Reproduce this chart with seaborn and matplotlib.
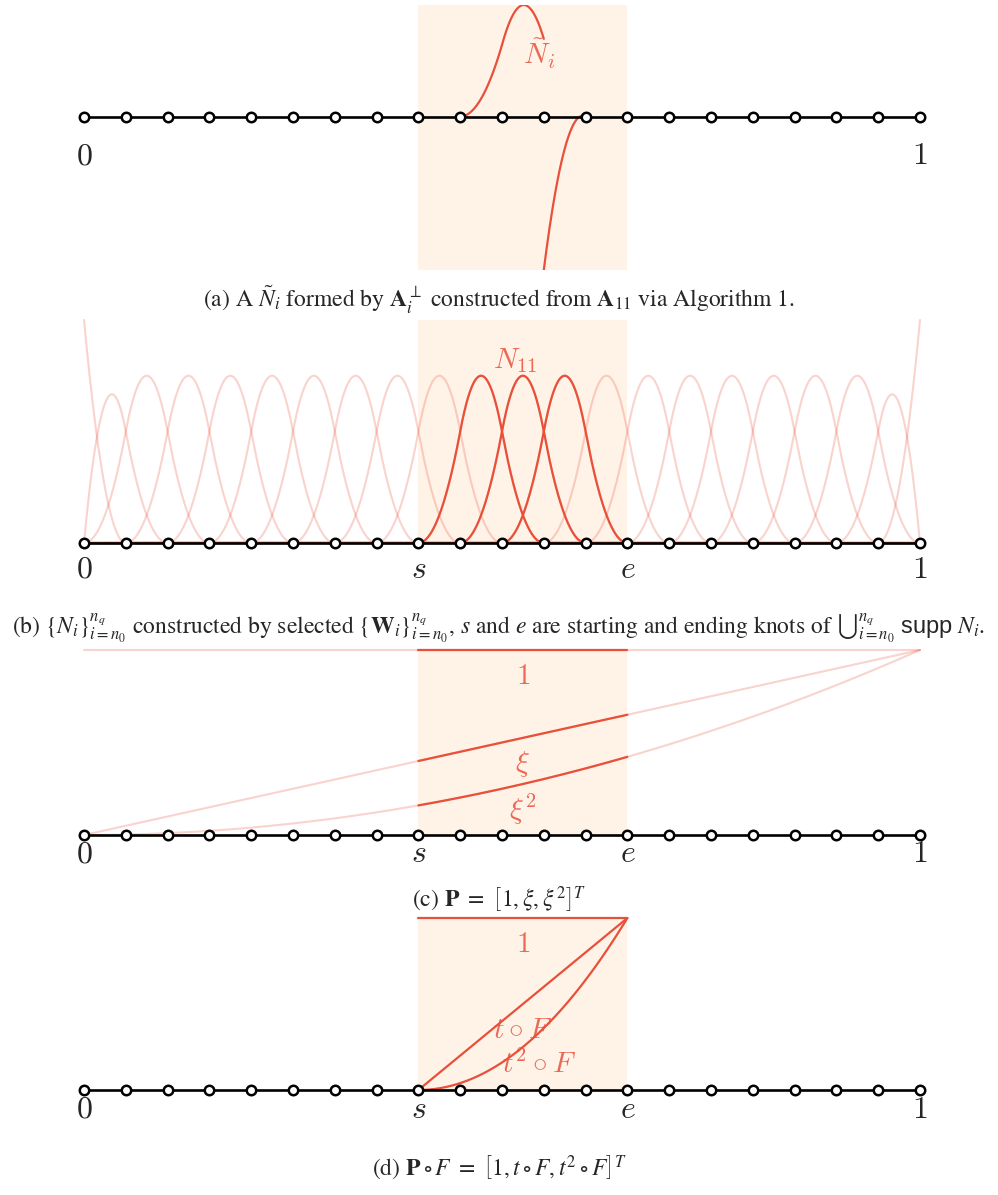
import numpy as np
import matplotlib
matplotlib.use("Agg")
import matplotlib.pyplot as plt
import seaborn as sns

# ---- data -------------------------------------------------------------
# uniform mesh on [0, 1]
knots = [0.0, 0.05, 0.1, 0.15, 0.2, 0.25, 0.3, 0.35, 0.4, 0.45, 0.5,
         0.55, 0.6, 0.65, 0.7, 0.75, 0.8, 0.85, 0.9, 0.95, 1.0]
degree = 2
s_knot, e_knot = 0.4, 0.65
selected = [10, 11, 12]          # basis functions highlighted in (b)

# (a) N~_i, piecewise quadratic, Bernstein coefficients per knot span
ntilde_spans = [(0.45, 0.5), (0.5, 0.55), (0.55, 0.6)]
ntilde_coef = [[0.0, 0.0, 0.70], [0.70, 1.45, 0.76], [-1.50, 0.12, 0.0]]

mono_powers = [0, 1, 2]
mono_labels = [r'$1$', r'$\xi$', r'$\xi^2$']
mapped_labels = [r'$1$', r'$t\circ F$', r'$t^2\circ F$']

captions = [
    r'(a) A $\tilde{N}_i$ formed by $\mathbf{A}_i^{\perp}$ constructed from $\mathbf{A}_{11}$ via Algorithm 1.',
    r'(b) $\{N_i\}_{i=n_0}^{n_q}$ constructed by selected $\{\mathbf{W}_i\}_{i=n_0}^{n_q}$, $s$ and $e$ are '
    r'starting and ending knots of ${\bigcup}_{i=n_0}^{n_q}\ \mathsf{supp}\ N_i$.',
    r'(c) $\mathbf{P}\ =\ \left[1,\xi,\xi^2\right]^T$',
    r'(d) $\mathbf{P}\circ F\ =\ \left[1,t\circ F,t^2\circ F\right]^T$',
]

# ---- style ------------------------------------------------------------
sns.set_theme(style="white")
plt.rcParams['mathtext.rm'] = 'STIXGeneral'
plt.rcParams['mathtext.it'] = 'STIXGeneral:italic'
plt.rcParams['mathtext.bf'] = 'STIXGeneral:bold'
plt.rcParams['mathtext.sf'] = 'Liberation Sans'

RED = "#e8503a"
SHADE = "#fff3e8"
W, H = 998, 1195

fig = plt.figure(figsize=(W / 100, H / 100), dpi=100)


def add_ax(top, bottom):
    return fig.add_axes([84 / W, 1 - bottom / H, 836 / W, (bottom - top) / H])


def basis(i, p, U, x):
    # Cox-de Boor recursion
    if p == 0:
        out = ((U[i] <= x) & (x < U[i + 1])).astype(float)
        if U[i + 1] == U[-1] and U[i] < U[i + 1]:
            out[x == U[-1]] = 1.0
        return out
    a = np.zeros_like(x)
    b = np.zeros_like(x)
    if U[i + p] > U[i]:
        a = (x - U[i]) / (U[i + p] - U[i]) * basis(i, p - 1, U, x)
    if U[i + p + 1] > U[i + 1]:
        b = (U[i + p + 1] - x) / (U[i + p + 1] - U[i + 1]) * basis(i + 1, p - 1, U, x)
    return a + b


def bernstein(c, a, b, x):
    t = (x - a) / (b - a)
    return c[0] * (1 - t) ** 2 + 2 * c[1] * t * (1 - t) + c[2] * t ** 2


def curve(ax, x, y, faint=False, clip=False):
    sns.lineplot(x=x, y=y, ax=ax, color=RED, lw=1.5 if faint else 1.6,
                 alpha=0.25 if faint else 1.0, estimator=None, sort=False,
                 clip_on=clip)


def knot_line(ax, labels, drop):
    ax.plot(knots, np.zeros(len(knots)), color="black", lw=1.9, marker="o",
            ms=6.8, mfc="white", mec="black", mew=1.8, clip_on=False, zorder=5)
    for xv, lbl in labels:
        ax.annotate(lbl, xy=(xv, 0), xytext=(0, -drop), textcoords="offset pixels",
                    ha="center", va="center", fontsize=23, math_fontfamily="cm",
                    annotation_clip=False)


def finish(ax, ylim):
    ax.set_xlim(0, 1)
    ax.set_ylim(*ylim)
    ax.axvspan(s_knot, e_knot, color=SHADE, lw=0, zorder=0)
    ax.axis("off")


def label(ax, x, y, txt):
    ax.text(x, y, txt, color=RED, alpha=0.85, fontsize=21,
            ha="center", va="center", math_fontfamily="cm")


lbl_ends = [(0.0, r"$0$"), (1.0, r"$1$")]
lbl_all = [(0.0, r"$0$"), (s_knot, r"$s$"), (e_knot, r"$e$"), (1.0, r"$1$")]
xs = np.linspace(0, 1, 2001)

# ---- (a) --------------------------------------------------------------
ax = add_ax(5, 270)
ymin, ymax = 0, 0
for (a, b), c in zip(ntilde_spans, ntilde_coef):
    xx = np.linspace(a, b, 300)
    yy = bernstein(c, a, b, xx)
    ymin, ymax = min(ymin, yy.min()), max(ymax, yy.max())
    curve(ax, xx, yy, clip=True)
finish(ax, (ymin, ymax))
label(ax, 0.545, 0.62, r"$\tilde{N}_i$")
knot_line(ax, lbl_ends, 39)

# ---- (b) --------------------------------------------------------------
ax = add_ax(320, 543)
U = [0.0] * degree + knots + [1.0] * degree
n_basis = len(U) - degree - 1
for i in range(n_basis):
    curve(ax, xs, basis(i, degree, U, xs), faint=True)
for i in selected:
    yy = basis(i, degree, U, xs)
    m = (xs >= U[i]) & (xs <= U[i + degree + 1])
    curve(ax, xs[m], yy[m])
finish(ax, (0, 1))
label(ax, 0.516, 0.82, r"$N_{11}$")
knot_line(ax, lbl_all, 26)

# ---- (c) --------------------------------------------------------------
ax = add_ax(650, 835)
inside = (xs >= s_knot) & (xs <= e_knot)
xm = (s_knot + e_knot) / 2
for p, lbl in zip(mono_powers, mono_labels):
    yy = xs ** p
    curve(ax, xs, yy, faint=True)
    curve(ax, xs[inside], yy[inside])
    label(ax, xm, xm ** p - 0.14, lbl)
finish(ax, (0, 1))
knot_line(ax, lbl_all, 19)

# ---- (d) --------------------------------------------------------------
ax = add_ax(918, 1090)
xi = xs[inside]
t = (xi - s_knot) / (e_knot - s_knot)
for p, lbl, dx, dy in zip(mono_powers, mapped_labels, [0, 0, 0.02], [0.15, 0.15, 0.1]):
    curve(ax, xi, t ** p)
    label(ax, xm + dx, 0.5 ** p - dy, lbl)
finish(ax, (0, 1))
knot_line(ax, lbl_all, 19)

# ---- captions ---------------------------------------------------------
for cap, yc in zip(captions, [300, 628, 900, 1168]):
    fig.text(0.5, 1 - yc / H, cap, ha="center", va="center", fontsize=17,
             family="STIXGeneral", math_fontfamily="custom")

fig.savefig("out.png", dpi=100)
